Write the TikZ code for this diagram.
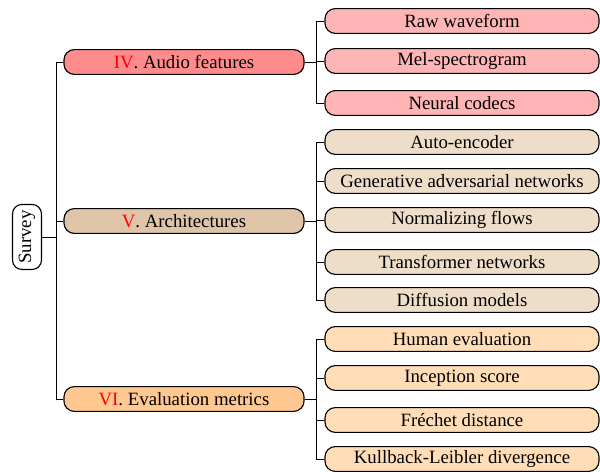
\documentclass[tikz,border=0pt]{standalone}
\usepackage{fontspec}
\setmainfont{Liberation Serif}
\definecolor{audioA}{HTML}{FF8C8C}
\definecolor{audioB}{HTML}{FFB5B5}
\definecolor{archA}{HTML}{DFC4A8}
\definecolor{archB}{HTML}{EEDDC9}
\definecolor{evalA}{HTML}{FFC890}
\definecolor{evalB}{HTML}{FFDDB7}
\begin{document}
\begin{tikzpicture}[x=0.532pt, y=-0.532pt,
            rootnode/.style={rectangle, draw, semithick, rounded corners=5pt, rotate=90, minimum width=34.6pt, minimum height=15.4pt, inner sep=1pt},
            sectionnode/.style={rectangle, draw, semithick, rounded corners=5.5pt, minimum width=127.7pt, minimum height=13.2pt, inner sep=1pt},
            topicnode/.style={rectangle, draw, semithick, rounded corners=5.5pt, minimum width=145.8pt, minimum height=13.2pt, inner sep=1pt},
            link/.style={draw, thin},
        ]
            \useasboundingbox (0,0) rectangle (600,472);

            %Nodes
            \node[rootnode] (survey) at (27,237) {Survey};

            \node[sectionnode, fill=audioA] (audio) at (184,62) {\textcolor{red}{IV}. Audio features};
            \node[sectionnode, fill=archA] (arch) at (184,221) {\textcolor{red}{V}. Architectures};
            \node[sectionnode, fill=evalA] (eval) at (184,399) {\textcolor{red}{VI}. Evaluation metrics};

            \node[topicnode, fill=audioB] (raw) at (462,21) {Raw waveform};
            \node[topicnode, fill=audioB] (mel) at (462,61) {Mel-spectrogram};
            \node[topicnode, fill=audioB] (codec) at (462,103) {Neural codecs};

            \node[topicnode, fill=archB] (ae) at (462,142) {Auto-encoder};
            \node[topicnode, fill=archB] (gan) at (462,181) {Generative adversarial networks};
            \node[topicnode, fill=archB] (flow) at (462,220) {Normalizing flows};
            \node[topicnode, fill=archB] (trans) at (462,262) {Transformer networks};
            \node[topicnode, fill=archB] (diff) at (462,300) {Diffusion models};

            \node[topicnode, fill=evalB] (human) at (462,339) {Human evaluation};
            \node[topicnode, fill=evalB] (incep) at (462,378) {Inception score};
            \node[topicnode, fill=evalB] (frechet) at (462,420) {Fréchet distance};
            \node[topicnode, fill=evalB] (kl) at (462,459) {Kullback-Leibler divergence};

            %Forks
            \coordinate (f0) at (56,237);
            \coordinate (fa) at (316,62);
            \coordinate (fb) at (316,221);
            \coordinate (fc) at (316,399);

            %Lines
            \foreach \n in {audio, arch, eval}
                \draw[link] (survey) -- (f0) |- (\n);
            \foreach \n in {raw, mel, codec}
                \draw[link] (audio) -- (fa) |- (\n);
            \foreach \n in {ae, gan, flow, trans, diff}
                \draw[link] (arch) -- (fb) |- (\n);
            \foreach \n in {human, incep, frechet, kl}
                \draw[link] (eval) -- (fc) |- (\n);
        \end{tikzpicture}
\end{document}
